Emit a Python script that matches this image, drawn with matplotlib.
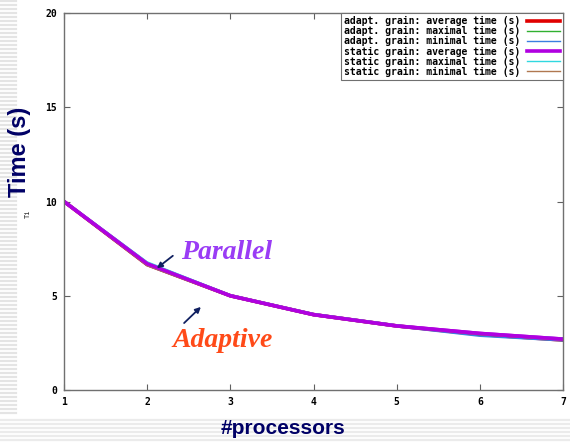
import numpy as np
import matplotlib
matplotlib.use('Agg')
import matplotlib.pyplot as plt

# data
procs = [1, 2, 3, 4, 5, 6, 7]
adapt_avg = [10.0, 6.65, 5.0, 4.0, 3.4, 2.95, 2.65]
adapt_max = [10.05, 6.75, 5.05, 4.05, 3.45, 2.9, 2.75]
adapt_min = [9.95, 6.6, 4.95, 3.95, 3.35, 2.85, 2.6]
static_avg = [10.0, 6.7, 5.0, 4.0, 3.4, 3.0, 2.7]
static_max = [10.05, 6.8, 5.05, 4.05, 3.45, 3.0, 2.75]
static_min = [9.95, 6.6, 4.95, 3.95, 3.35, 2.95, 2.65]

labels = ['adapt. grain: average time (s)', 'adapt. grain: maximal time (s)',
          'adapt. grain: minimal time (s)', 'static grain: average time (s)',
          'static grain: maximal time (s)', 'static grain: minimal time (s)']
series = [adapt_avg, adapt_max, adapt_min, static_avg, static_max, static_min]
colors = ['#e00000', '#30b030', '#3a7fe0', '#b000e0', '#30d8e0', '#b07850']
widths = [2.6, 1.0, 1.0, 2.6, 1.0, 1.0]

W, H = 570, 442
fig = plt.figure(figsize=(W / 100, H / 100), dpi=100)

# slide background: grey stripes, white patches behind the labels
bg = fig.add_axes([0, 0, 1, 1], zorder=0)
bg.set_xlim(0, W)
bg.set_ylim(H, 0)
bg.axis('off')
for y in np.arange(1, 414, 4):
    bg.plot([0, 16], [y, y], color='#e4e4e4', lw=1.6)
for y in np.arange(420, H, 4):
    bg.plot([0, W], [y, y], color='#ebebeb', lw=1.6)
bg.add_patch(plt.Rectangle((0, 88), 36, 126, color='white'))
bg.add_patch(plt.Rectangle((210, 414), 145, 30, color='white'))

ax = fig.add_axes([64 / W, 1 - 390 / H, (563 - 64) / W, (390 - 13) / H], zorder=1)
for s, lab, c, w in zip(series, labels, colors, widths):
    ax.plot(procs, s, color=c, lw=w, label=lab)
# static average is on top in the picture
ax.plot(procs, static_avg, color=colors[3], lw=widths[3])

ax.set_xlim(1, 7)
ax.set_ylim(0, 20)
ax.set_xticks(procs)
ax.set_yticks([0, 5, 10, 15, 20])
ax.tick_params(direction='in', top=True, right=True, length=4, width=0.8,
               color='#606060', labelsize=7, pad=5)
for t in ax.get_xticklabels() + ax.get_yticklabels():
    t.set_family('DejaVu Sans Mono')
    t.set_fontweight('bold')
for sp in ax.spines.values():
    sp.set_color('#707070')
    sp.set_linewidth(1.0)

leg = ax.legend(loc='upper right', markerfirst=False, borderaxespad=0,
                prop={'family': 'DejaVu Sans Mono', 'weight': 'bold', 'size': 7},
                labelspacing=0.0, handlelength=3.4, handletextpad=0.6,
                borderpad=0.35, fancybox=False, framealpha=1)
leg.get_frame().set_edgecolor('#707070')
leg.get_frame().set_linewidth(0.8)

# annotations on the slide
ax.text(2.96, 7.3, 'Parallel', color='#9a3cf5', fontsize=20, family='Liberation Serif',
        fontweight='bold', style='italic', ha='center', va='center')
ax.text(2.91, 2.6, 'Adaptive', color='#ff4a18', fontsize=20, family='Liberation Serif',
        fontweight='bold', style='italic', ha='center', va='center')
ax.annotate('', xy=(2.09, 6.37), xytext=(2.335, 7.21),
            arrowprops=dict(arrowstyle='-|>', color='#102060', lw=1.3, mutation_scale=8))
ax.annotate('', xy=(2.67, 4.51), xytext=(2.42, 3.45),
            arrowprops=dict(arrowstyle='-|>', color='#102060', lw=1.3, mutation_scale=8))

fig.text(20 / W, 1 - 152 / H, 'Time (s)', rotation=90, color='#000066', fontsize=17,
         fontweight='bold', family='Liberation Sans', ha='center', va='center')
fig.text(28 / W, 1 - 214 / H, 'Ti', rotation=90, color='#202020', fontsize=5,
         family='DejaVu Sans Mono', ha='center', va='center')
fig.text(283 / W, 1 - 428 / H, '#processors', color='#000066', fontsize=15,
         fontweight='bold', family='Liberation Sans', ha='center', va='center')

fig.savefig('out.png', dpi=100)
